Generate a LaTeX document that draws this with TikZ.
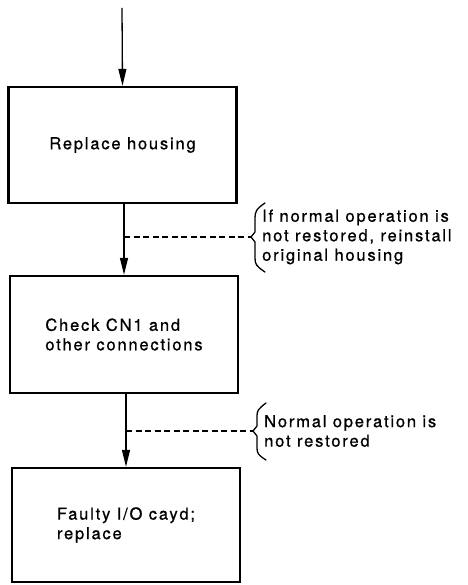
\documentclass[tikz,border=0pt]{standalone}
\usepackage{fontspec}
\setmainfont[LetterSpace=11,FakeBold=0.8]{TeX Gyre Heros}
\usetikzlibrary{arrows.meta,calc}
\begin{document}
\begin{tikzpicture}[x=1pt,y=-1pt,
  box/.style={draw,line width=2.4pt,minimum width=#1,inner sep=0pt,font=\fontsize{16.5}{19.5}\selectfont,align=left},
  box/.default=228pt,
  flow/.style={line width=1.3pt,-{Triangle[width=8pt,length=17pt]}},
  dash line/.style={line width=1.3pt,dash pattern=on 6pt off 3.5pt},
  brace line/.style={line width=1.3pt,line cap=round,line join=round},
  note/.style={anchor=west,inner sep=0pt,font=\fontsize{16.5}{19.5}\selectfont,align=left}]
\useasboundingbox (0,0) rectangle (467,585);
\node[box, minimum height=116pt] (b1) at (122.5,145) {Replace housing};
\node[box, minimum height=117pt] (b2) at (124,334.5) {Check CN1 and\\other connections};
\node[box, minimum height=114pt] (b3) at (126,525) {Faulty I/O cayd;\\replace};
\coordinate (start) at (122,8);
\draw[flow] (start) -- (b1.north);
\draw[flow] (b2.north |- b1.south) -- (b2.north);
\draw[flow] (b3.north |- b2.south) -- (b3.north);
% note 1
\coordinate (t1) at (251,237);
\draw[dash line] (t1 -| b2.north) -- (t1);
\draw[brace line] (265,203) .. controls (256,209) and (255,212) .. (255,218) -- (255,232) -- (t1) -- (255,242) -- (255,258) .. controls (255,264) and (256,266) .. (265,272);
\node[note] (n1) at (262,237) {If normal operation is\\not restored, reinstall\\original housing};
% note 2
\coordinate (t2) at (253,431);
\draw[dash line] (t2 -| b3.north) -- (t2);
\draw[brace line] (266,403) .. controls (258,409) and (257,411) .. (257,416) -- (257,426) -- (t2) -- (257,436) -- (257,448) .. controls (257,453) and (258,455) .. (266,460);
\node[note] (n2) at (264,431) {Normal operation is\\not restored};
\end{tikzpicture}
\end{document}
